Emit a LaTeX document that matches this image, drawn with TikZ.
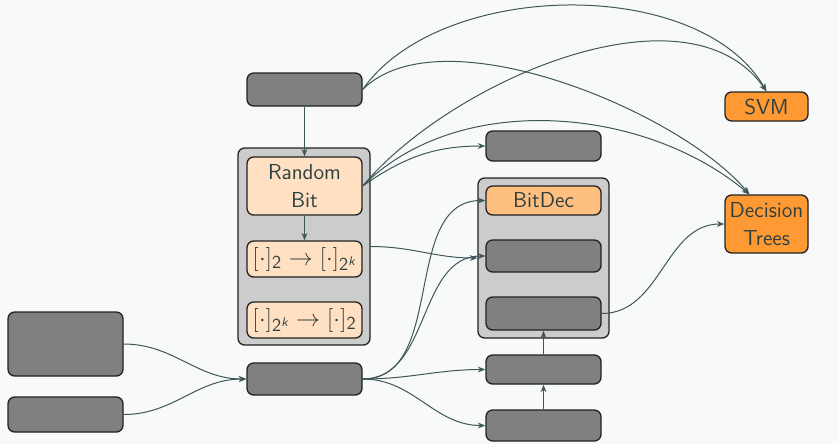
\documentclass[tikz,border=0pt]{standalone}
\usepackage{amsmath, amssymb}
\usepackage{xcolor}
\usepackage{tikz}
\usetikzlibrary{arrows.meta,positioning}
\definecolor{bgc}{HTML}{F8F9F9}
\definecolor{ink}{HTML}{2F4040}
\definecolor{edge}{HTML}{222222}
\definecolor{wire}{HTML}{3E5758}
\definecolor{boxgray}{HTML}{808080}
\definecolor{framegray}{HTML}{CCCCCC}
\definecolor{peach}{HTML}{FFE0C2}
\definecolor{lightorange}{HTML}{FFBF80}
\definecolor{hotorange}{HTML}{FF9933}
\newcommand{\bits}{\mathsf{2}}
\newcommand{\ring}{\mathsf{2}^{\text{\sffamily\itshape k}}}

\begin{document}
\begin{tikzpicture}[
    x=0.6pt, y=-0.6pt,
    blk/.style={draw=edge, line width=0.8pt, rounded corners=4pt, fill=boxgray,
        minimum width=69pt, inner sep=0pt, text=ink,
        font=\sffamily\fontsize{13}{17}\selectfont, align=center},
    soft/.style={blk, fill=peach},
    hot/.style={blk, fill=hotorange},
    conv/.style={soft, minimum height=21.6pt, font=\sffamily\fontsize{15}{18}\selectfont},
    frame/.style={draw=edge, line width=0.8pt, rounded corners=4pt, fill=framegray, inner sep=0pt},
    link/.style={draw=wire, line width=0.6pt, -{Stealth[length=4.5pt,width=3.5pt]}}
]
    \fill[bgc] (0,0) rectangle (839,444);
    \useasboundingbox (0,0) rectangle (839,444);

    % containers
    \node[frame, minimum width=79.2pt, minimum height=118.2pt] (box1) at (304,246.5) {};
    \node[frame, minimum width=78.6pt, minimum height=96pt] (box2) at (543.5,258) {};

    % left column
    \node[blk, minimum height=38.4pt] (l1) at (65.5,344) {};
    \node[blk, minimum height=21pt] (l2) at (65.5,414.5) {};

    % middle column
    \node[blk, minimum height=19.8pt] (src) at (304.5,89.5) {};
    \node[soft, minimum height=34.8pt] (rb) at (304.5,186) {Random\\Bit};
    \node[conv] (conv1) at (304.5,259) {$[\cdot]_{\bits} \rightarrow [\cdot]_{\ring}$};
    \node[conv] (conv2) at (304.5,320) {$[\cdot]_{\ring} \rightarrow [\cdot]_{\bits}$};
    \node[blk, minimum height=19.2pt] (mid) at (304.5,379) {};

    % right column
    \node[blk, minimum height=18pt] (r1) at (543.5,146) {};
    \node[blk, fill=lightorange, minimum height=17.4pt] (bd) at (543.5,200.5) {BitDec};
    \node[blk, minimum height=19.2pt] (r2) at (543.5,256) {};
    \node[blk, minimum height=19.8pt] (r3) at (543.5,313.5) {};
    \node[blk, minimum height=17.4pt] (r4) at (543.5,369.5) {};
    \node[blk, minimum height=18.6pt] (r5) at (543.5,425.5) {};

    % classifiers
    \node[hot, minimum width=49.8pt, minimum height=17.4pt] (svm) at (766.5,106.5) {SVM};
    \node[hot, minimum width=49.8pt, minimum height=34.8pt] (dt) at (766.5,224) {Decision\\Trees};

    % vertical links
    \draw[link] (src) -- (rb);
    \draw[link] (rb) -- (conv1);
    \draw[link] (r5) -- (r4);
    \draw[link] (r4) -- (r3);

    % long arcs
    \draw[link] (src.east) to[out=55, in=120, looseness=0.85] (svm.north);
    \draw[link] (src.east) to[out=45, in=130, looseness=0.7] (dt.120);
    \draw[link] (rb.east) to[out=50, in=125, looseness=0.85] (svm.north);
    \draw[link] (rb.east) to[out=45, in=140, looseness=0.9] (dt.120);
    \draw[link] (rb.east) to[out=35, in=180] (r1.west);

    % middle links
    \draw[link] (box1.east) to[out=0, in=180] (box2.west);
    \draw[link] (l1.east) to[out=0, in=180] (mid.west);
    \draw[link] (l2.east) to[out=0, in=180] (mid.west);
    \draw[link] (mid.east) to[out=0, in=180] (bd.west);
    \draw[link] (mid.east) to[out=0, in=180] (r2.west);
    \draw[link] (mid.east) to[out=0, in=180] (r4.west);
    \draw[link] (mid.east) to[out=0, in=180] (r5.west);
    \draw[link] (r3.east) to[out=0, in=180] (dt.west);
\end{tikzpicture}
\end{document}
